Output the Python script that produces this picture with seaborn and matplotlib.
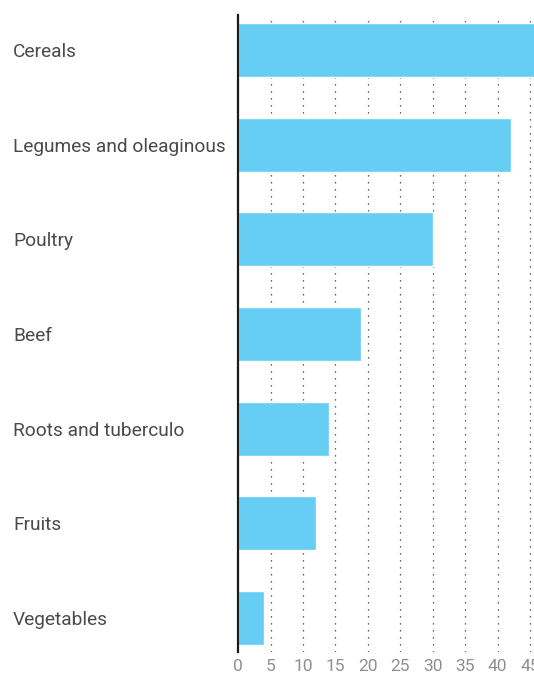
import seaborn as sns
import matplotlib.pyplot as plt
import pandas as pd

# food groups and their values
categories = ["Cereals", "Legumes and oleaginous", "Poultry", "Beef",
              "Roots and tuberculo", "Fruits", "Vegetables"]
values = [46, 42, 30, 19, 14, 12, 4]
xticks = [0, 5, 10, 15, 20, 25, 30, 35, 40, 45]

df = pd.DataFrame({"Category": categories, "Value": values})

sns.set_theme(style="white")
plt.rcParams['font.family'] = ['Roboto', 'DejaVu Sans']

fig = plt.figure(figsize=(5.34, 6.77), dpi=100)
ax = fig.add_axes([0.446, 0.037, 0.554, 0.941])

sns.barplot(data=df, x="Value", y="Category", color="#66CEF5",
            saturation=1, width=0.57, ax=ax, zorder=2)

ax.set_xlim(0, 45.6)
ax.set_ylim(6.36, -0.37)
ax.set_xticks(xticks)
ax.set_xlabel("")
ax.set_ylabel("")

# dotted vertical grid behind the bars
for t in xticks[1:]:
    ax.axvline(t, color="#333333", lw=0.9, linestyle=(0, (1, 4.6)), zorder=1)

for side in ["top", "right", "bottom"]:
    ax.spines[side].set_visible(False)
ax.spines["left"].set_color("#1a1a1a")
ax.spines["left"].set_linewidth(1.6)

ax.tick_params(axis="x", length=0, labelsize=12.5, labelcolor="#8f8f8f", pad=5)
ax.tick_params(axis="y", length=0, labelsize=13.8, labelcolor="#4a4a4a", pad=162)
for lab in ax.get_yticklabels():
    lab.set_horizontalalignment("left")

fig.savefig("out.png", dpi=100)
